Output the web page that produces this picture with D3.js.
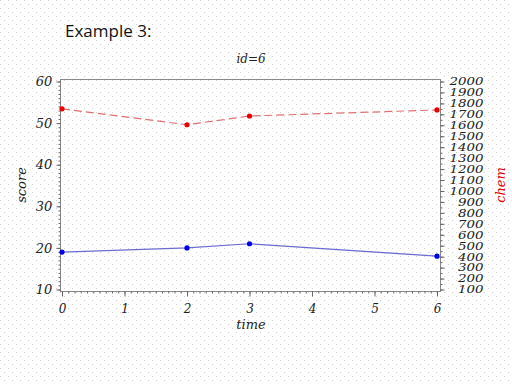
<!DOCTYPE html>
<html><head><meta charset="utf-8">
<script src="https://cdn.jsdelivr.net/npm/d3@7"></script>
<style>html,body{margin:0;padding:0;background:#fff;}</style>
</head><body>
<script>
const times = [0, 2, 3, 6];
const scoreValues = [19, 20, 21, 18];
const chemValues = [1750, 1605, 1685, 1740];
const xTicks = [0, 1, 2, 3, 4, 5, 6];
const yTicks = [10, 20, 30, 40, 50, 60];
const y2Ticks = d3.range(100, 2001, 100);

const W = 512, H = 384;
const svg = d3.select("body").append("svg").attr("width", W).attr("height", H);
const defs = svg.append("defs");
const pat = defs.append("pattern").attr("id", "dots").attr("patternUnits", "userSpaceOnUse")
  .attr("width", 8).attr("height", 8);
pat.append("rect").attr("width", 8).attr("height", 8).attr("fill", "#fff");
pat.append("rect").attr("x", 0).attr("y", 0).attr("width", 1).attr("height", 1).attr("fill", "#d0d0d0");
pat.append("rect").attr("x", 4).attr("y", 4).attr("width", 1).attr("height", 1).attr("fill", "#d0d0d0");
svg.append("rect").attr("width", W).attr("height", H).attr("fill", "url(#dots)");

const x = d3.scaleLinear().domain([0, 6]).range([62, 437]);
const y = d3.scaleLinear().domain([10, 60]).range([289.5, 81.5]);
const y2 = d3.scaleLinear().domain([100, 2000]).range([289.5, 81.5]);

const serif = "'DejaVu Serif', 'Liberation Serif', serif";

// frame
svg.append("rect").attr("x", 60.5).attr("y", 79.5).attr("width", 380).attr("height", 212)
  .attr("fill", "none").attr("stroke", "#888").attr("stroke-width", 1);

// x axis
const xAxis = svg.append("g").attr("transform", "translate(0,291.5)");
xAxis.call(d3.axisBottom(x).tickValues(d3.range(0, 60.1, 1).map(v => v / 10)).tickSize(2).tickFormat(""));
xAxis.call(g => g.select(".domain").remove());
xAxis.selectAll(".tick line").attr("stroke", "#666");
const xLab = svg.append("g").attr("transform", "translate(0,291.5)");
xLab.call(d3.axisBottom(x).tickValues(xTicks).tickSize(5).tickFormat(d3.format("d")));
xLab.select(".domain").remove();
xLab.selectAll(".tick line").attr("stroke", "#666");
xLab.selectAll("text").attr("font-family", serif).attr("font-style", "italic")
  .attr("font-size", 12).attr("fill", "#222").attr("dy", "1.1em");

// left axis
const yAxisMinor = svg.append("g").attr("transform", "translate(60.5,0)");
yAxisMinor.call(d3.axisLeft(y).tickValues(d3.range(10, 61, 1)).tickSize(2).tickFormat(""));
yAxisMinor.select(".domain").remove();
yAxisMinor.selectAll(".tick line").attr("stroke", "#666");
const yAxis = svg.append("g").attr("transform", "translate(60.5,0)");
yAxis.call(d3.axisLeft(y).tickValues(yTicks).tickSize(4).tickFormat(d3.format("d")));
yAxis.select(".domain").remove();
yAxis.selectAll(".tick line").attr("stroke", "#666");
yAxis.selectAll("text").attr("font-family", serif).attr("font-style", "italic")
  .attr("font-size", 13).attr("fill", "#222").attr("dx", "-0.1em");

// right axis
const y2Minor = svg.append("g").attr("transform", "translate(440.5,0)");
y2Minor.call(d3.axisRight(y2).tickValues(d3.range(100, 2001, 50)).tickSize(2).tickFormat(""));
y2Minor.select(".domain").remove();
y2Minor.selectAll(".tick line").attr("stroke", "#666");
const y2Axis = svg.append("g").attr("transform", "translate(440.5,0)");
y2Axis.call(d3.axisRight(y2).tickValues(y2Ticks).tickSize(4).tickFormat(d3.format("d")));
y2Axis.select(".domain").remove();
y2Axis.selectAll(".tick line").attr("stroke", "#666");
y2Axis.selectAll("text").attr("font-family", serif).attr("font-style", "italic")
  .attr("font-size", 10.5).attr("fill", "#222").attr("text-anchor", "end").attr("x", 43)
  .attr("textLength", function() { return this.textContent.length * 8.5; })
  .attr("lengthAdjust", "spacingAndGlyphs");

// series
const scoreData = times.map((t, i) => [t, scoreValues[i]]);
const chemData = times.map((t, i) => [t, chemValues[i]]);
svg.append("path").datum(scoreData)
  .attr("d", d3.line().x(d => x(d[0])).y(d => y(d[1])))
  .attr("fill", "none").attr("stroke", "#6a6ad0").attr("stroke-width", 1.2);
svg.append("path").datum(chemData)
  .attr("d", d3.line().x(d => x(d[0])).y(d => y2(d[1])))
  .attr("fill", "none").attr("stroke", "#e07070").attr("stroke-width", 1.2)
  .attr("stroke-dasharray", "8,4");
svg.selectAll(".sp").data(scoreData).enter().append("circle")
  .attr("cx", d => x(d[0])).attr("cy", d => y(d[1])).attr("r", 2.6).attr("fill", "#0000ee");
svg.selectAll(".cp").data(chemData).enter().append("circle")
  .attr("cx", d => x(d[0])).attr("cy", d => y2(d[1])).attr("r", 2.6).attr("fill", "#ee0000");

// titles
svg.append("text").attr("x", 65).attr("y", 37).text("Example 3:")
  .attr("font-family", "'Open Sans', 'DejaVu Sans', sans-serif").attr("font-size", 17).attr("fill", "#111");
svg.append("text").attr("x", 251).attr("y", 63).attr("text-anchor", "middle").text("id=6")
  .attr("font-family", serif).attr("font-style", "italic").attr("font-size", 12).attr("fill", "#222");
svg.append("text").attr("x", 251).attr("y", 329).attr("text-anchor", "middle").text("time")
  .attr("font-family", serif).attr("font-style", "italic").attr("font-size", 13).attr("fill", "#222");
svg.append("text").attr("transform", "translate(26,185) rotate(-90)").attr("text-anchor", "middle").text("score")
  .attr("font-family", serif).attr("font-style", "italic").attr("font-size", 13).attr("fill", "#222");
svg.append("text").attr("transform", "translate(505,185) rotate(-90)").attr("text-anchor", "middle").text("chem")
  .attr("font-family", serif).attr("font-style", "italic").attr("font-size", 13).attr("fill", "#e00000");
</script>
</body></html>
